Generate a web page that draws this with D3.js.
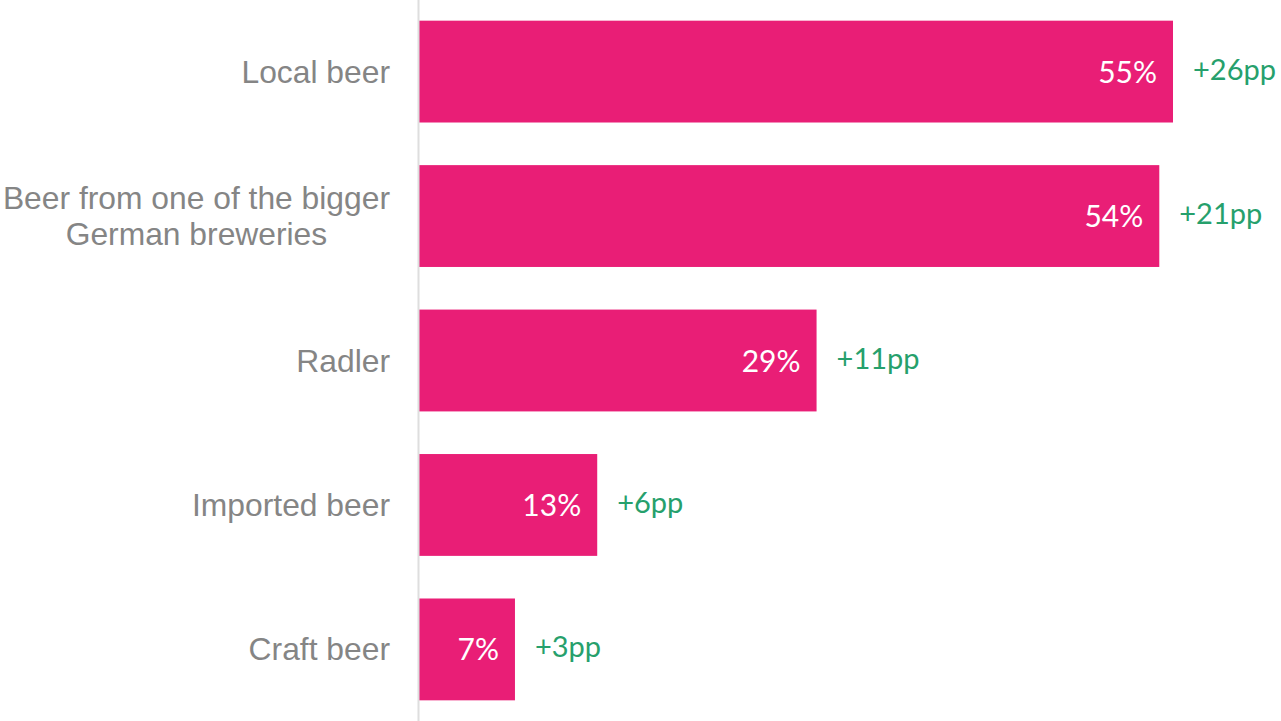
<!DOCTYPE html>
<html>
<head>
<meta charset="utf-8">
<script src="https://cdn.jsdelivr.net/npm/d3@7/dist/d3.min.js"></script>
<style>
  html, body { margin: 0; padding: 0; background: #fff; }
  svg { display: block; }
</style>
</head>
<body>
<svg id="chart" width="1281" height="721"></svg>
<script>
// Beer types and their share, with change in percentage points
const categories = [
  ["Local beer"],
  ["Beer from one of the bigger", "German breweries"],
  ["Radler"],
  ["Imported beer"],
  ["Craft beer"]
];
const shares = [55, 54, 29, 13, 7];
const changes = ["+26pp", "+21pp", "+11pp", "+6pp", "+3pp"];

const W = 1281, H = 721;
const axisX = 419;
const svg = d3.select("#chart");

const keys = categories.map(c => c.join(" "));
const x = d3.scaleLinear().domain([0, 55]).range([axisX, 1173]);
const y = d3.scaleBand().domain(keys).range([-1, 722]).paddingInner(0.295).paddingOuter(0.15);

const rows = categories.map((c, i) => ({ lines: c, key: keys[i], v: shares[i], d: changes[i] }));

// bars
svg.append("g").selectAll("rect").data(rows).join("rect")
  .attr("x", x(0))
  .attr("y", d => y(d.key))
  .attr("width", d => x(d.v) - x(0))
  .attr("height", y.bandwidth())
  .attr("fill", "#e91e76");

// vertical baseline
svg.append("line")
  .attr("x1", axisX - 0.5).attr("x2", axisX - 0.5)
  .attr("y1", 0).attr("y2", H)
  .attr("stroke", "#dedede").attr("stroke-width", 2);

// category labels: block right-aligned at the axis gap, lines centred within the block
const labelRight = 390;
const lineH = 36;
const lab = svg.append("g")
  .attr("font-family", "'Liberation Sans', Arial, sans-serif")
  .attr("font-size", 31.8)
  .attr("fill", "#858585");
rows.forEach(d => {
  const cy = y(d.key) + y.bandwidth() / 2;
  const t = lab.append("text").attr("text-anchor", "middle");
  const spans = d.lines.map((l, j) => t.append("tspan").text(l));
  const widths = spans.map(s => s.node().getComputedTextLength());
  const cx = labelRight - d3.max(widths) / 2;
  const n = d.lines.length;
  spans.forEach((s, j) => {
    s.attr("x", cx).attr("y", cy + (j - (n - 1) / 2) * lineH + 11);
  });
});

// value labels inside bars
svg.append("g")
  .attr("font-family", "Lato, 'Open Sans', sans-serif")
  .attr("font-size", 30)
  .attr("fill", "#fff")
  .attr("text-anchor", "end")
  .selectAll("text").data(rows).join("text")
  .attr("x", d => x(d.v) - 16)
  .attr("y", d => y(d.key) + y.bandwidth() / 2 + 11)
  .text(d => d.v + "%");

// change labels beside bars
svg.append("g")
  .attr("font-family", "Lato, 'Open Sans', sans-serif")
  .attr("font-size", 29)
  .attr("fill", "#26a06c")
  .selectAll("text").data(rows).join("text")
  .attr("x", d => x(d.v) + 20)
  .attr("y", d => y(d.key) + y.bandwidth() / 2 + 8)
  .text(d => d.d);
</script>
</body>
</html>
